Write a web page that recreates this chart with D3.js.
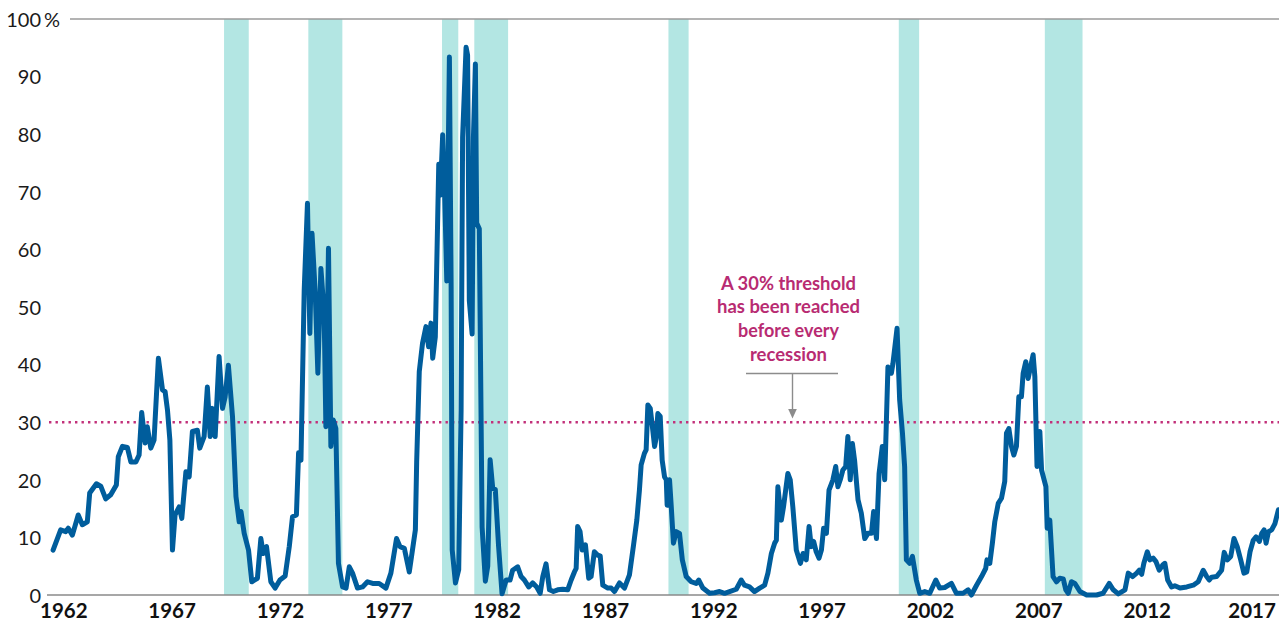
<!DOCTYPE html>
<html>
<head>
<meta charset="utf-8">
<script src="https://cdn.jsdelivr.net/npm/d3@7/dist/d3.min.js"></script>
<style>
  html, body { margin: 0; padding: 0; background: #fff; }
  svg { display: block; }
</style>
</head>
<body>
<svg id="chart" width="1279" height="625"></svg>
<script>
// ---- Data ----
const dates = [
1962.05,1962.40,1962.63,1962.75,1962.94,1963.21,1963.40,1963.63,1963.74,1964.05,1964.25,1964.48,1964.71,1964.97,
1965.06,1965.25,1965.48,1965.64,1965.87,1966.02,1966.14,1966.30,1966.40,1966.56,1966.71,1966.91,1967.10,1967.22,
1967.33,1967.44,1967.56,1967.68,1967.87,1967.99,1968.18,1968.33,1968.48,1968.71,1968.82,1969.02,1969.17,1969.30,
1969.40,1969.53,1969.71,1969.87,1969.99,1970.14,1970.33,1970.49,1970.64,1970.72,1970.87,1971.07,1971.22,1971.48,
1971.64,1971.75,1971.90,1972.10,1972.30,1972.52,1972.76,1972.95,1973.10,1973.28,1973.38,1973.49,1973.64,1973.79,
1973.90,1974.00,1974.15,1974.27,1974.41,1974.56,1974.64,1974.76,1974.87,1974.98,1975.10,1975.22,1975.41,1975.57,
1975.72,1975.87,1976.10,1976.33,1976.56,1976.80,1977.10,1977.41,1977.64,1977.90,1978.06,1978.26,1978.49,1978.77,
1978.83,1978.95,1979.10,1979.26,1979.38,1979.49,1979.57,1979.69,1979.85,1979.92,1980.03,1980.11,1980.22,1980.34,
1980.42,1980.47,1980.62,1980.77,1980.88,1980.95,1981.11,1981.18,1981.26,1981.39,1981.45,1981.54,1981.60,1981.72,
1981.85,1982.00,1982.11,1982.22,1982.34,1982.46,1982.61,1982.77,1982.96,1983.14,1983.26,1983.49,1983.65,1983.80,
1984.00,1984.18,1984.37,1984.53,1984.65,1984.80,1984.96,1985.14,1985.34,1985.57,1985.80,1985.96,1986.11,1986.19,
1986.26,1986.37,1986.47,1986.62,1986.77,1986.88,1987.03,1987.19,1987.30,1987.42,1987.65,1987.81,1987.96,1988.19,
1988.42,1988.65,1988.84,1988.99,1989.11,1989.19,1989.34,1989.42,1989.50,1989.61,1989.70,1989.81,1989.88,1989.96,
1990.07,1990.16,1990.27,1990.35,1990.39,1990.50,1990.58,1990.68,1990.81,1990.96,1991.09,1991.27,1991.50,1991.73,
1991.85,1992.04,1992.35,1992.58,1992.81,1993.04,1993.27,1993.58,1993.81,1993.96,1994.19,1994.42,1994.66,1994.89,
1995.04,1995.20,1995.35,1995.43,1995.50,1995.66,1995.76,1995.96,1996.07,1996.19,1996.35,1996.54,1996.66,1996.81,
1996.94,1997.04,1997.15,1997.27,1997.40,1997.51,1997.61,1997.74,1997.86,1998.04,1998.17,1998.27,1998.38,1998.50,
1998.63,1998.73,1998.84,1998.94,1999.04,1999.20,1999.35,1999.51,1999.66,1999.82,1999.92,2000.05,2000.17,2000.32,
2000.43,2000.58,2000.74,2000.81,2001.00,2001.12,2001.25,2001.35,2001.43,2001.58,2001.71,2001.89,2002.05,2002.28,
2002.51,2002.79,2002.97,2003.20,2003.51,2003.74,2004.05,2004.28,2004.43,2004.67,2004.90,2005.09,2005.15,2005.28,
2005.40,2005.51,2005.67,2005.82,2005.97,2006.05,2006.16,2006.28,2006.39,2006.51,2006.62,2006.74,2006.82,2006.94,
2007.05,2007.16,2007.28,2007.36,2007.46,2007.59,2007.67,2007.87,2007.93,2008.05,2008.20,2008.36,2008.51,2008.67,
2008.79,2008.90,2009.05,2009.21,2009.44,2009.75,2010.21,2010.51,2010.79,2010.98,2011.21,2011.52,2011.67,2011.87,
2012.06,2012.18,2012.29,2012.39,2012.55,2012.67,2012.82,2012.95,2013.10,2013.26,2013.36,2013.49,2013.67,2013.82,
2014.06,2014.37,2014.67,2014.90,2015.13,2015.29,2015.41,2015.52,2015.75,2015.98,2016.10,2016.24,2016.40,2016.55,
2016.70,2016.86,2017.01,2017.14,2017.29,2017.44,2017.57,2017.72,2017.83,2017.94,2018.03,2018.14,2018.29,2018.44,
2018.60
];
const shares = [
7.8,11.3,11.0,11.6,10.4,13.9,12.2,12.7,17.7,19.3,18.9,16.7,17.4,19.1,
24.0,25.8,25.6,23.1,23.1,24.3,31.7,26.4,29.2,25.5,26.9,41.1,35.6,35.3,
32.1,26.9,7.8,13.9,15.3,13.3,21.4,20.5,28.4,28.6,25.5,27.5,36.1,27.5,
32.4,27.5,41.4,32.4,34.4,39.9,31.0,17.1,12.7,14.5,10.7,7.8,2.3,2.9,
9.8,7.2,8.4,2.3,1.2,2.6,3.3,8.4,13.6,13.9,24.7,23.4,53.0,68.0,
45.4,62.8,52.4,38.5,56.7,48.9,29.2,60.2,25.8,30.4,28.9,5.5,1.4,1.2,
4.9,3.8,1.2,1.4,2.3,2.0,2.0,1.2,3.8,9.8,8.4,8.1,4.0,11.3,
23.1,38.8,43.7,46.6,43.1,47.2,41.1,44.8,74.8,69.4,79.9,71.4,54.5,93.4,
53.8,7.8,2.1,4.4,32.1,79.5,95.1,93.7,51.1,45.3,79.5,92.2,64.6,63.6,
11.8,2.4,5.0,23.5,18.5,18.3,8.5,0.2,2.6,2.6,4.3,4.9,3.2,2.6,
1.4,2.1,1.4,0.3,3.2,5.4,0.9,0.6,0.9,1.0,0.9,2.6,4.0,4.6,
11.9,11.0,7.8,8.7,2.9,3.2,7.5,6.9,6.8,1.7,1.2,1.2,0.6,2.1,
1.2,3.5,8.7,13.0,18.2,22.6,24.6,25.2,33.0,32.4,29.5,25.8,27.2,31.5,
31.0,23.4,20.5,20.0,15.6,20.0,15.3,9.0,11.0,10.7,6.1,3.2,2.3,2.0,
2.6,1.2,0.3,0.4,0.6,0.3,0.6,1.0,2.6,1.7,1.4,0.6,1.2,1.7,
3.8,7.2,9.0,9.5,18.8,13.0,15.3,21.1,20.0,15.3,7.8,5.5,7.2,6.1,
11.9,8.4,9.3,7.5,6.4,7.8,11.6,10.7,18.2,20.0,22.3,18.8,20.0,21.7,
22.3,27.5,20.0,26.3,23.4,16.5,14.2,9.8,10.7,10.7,14.5,9.8,21.1,25.8,
20.0,39.6,38.5,40.2,46.3,33.9,28.1,22.3,6.1,5.5,6.7,2.6,0.3,0.6,
0.3,2.6,1.2,1.3,2.0,0.3,0.3,0.9,0.0,1.7,3.2,4.6,6.1,5.5,
9.0,12.7,15.9,16.8,19.7,28.1,28.9,25.8,24.3,25.8,34.4,34.4,38.5,40.5,
37.6,39.6,41.7,37.9,22.3,28.4,21.7,18.8,11.6,13.0,3.2,2.3,2.9,2.8,
0.9,0.3,2.3,2.0,0.6,0.0,0.0,0.3,2.0,0.9,0.2,0.9,3.8,3.2,
3.8,4.3,3.6,5.5,7.5,6.1,6.4,5.8,4.3,5.2,5.5,2.6,1.4,1.6,
1.2,1.4,1.7,2.3,4.3,3.2,2.6,3.1,3.2,4.3,7.4,6.1,6.7,9.8,
8.4,6.1,3.8,4.0,7.5,9.5,10.1,9.3,10.7,11.3,9.0,11.0,11.3,12.4,
14.8
];
const recessionStarts = [1969.94, 1973.83, 1980.00, 1981.49, 1990.45, 2001.08, 2007.82];
const recessionEnds   = [1971.08, 1975.40, 1980.75, 1983.05, 1991.38, 2002.02, 2009.56];
const yTicks = [0, 10, 20, 30, 40, 50, 60, 70, 80, 90, 100];
const xTickYears = [1962, 1967, 1972, 1977, 1982, 1987, 1992, 1997, 2002, 2007, 2012, 2017];
const thresholdValue = 30;
const annotationLines = ["A 30% threshold", "has been reached", "before every", "recession"];

// ---- Chart ----
const W = 1279, H = 625;
const svg = d3.select("#chart");

const x = d3.scaleLinear().domain([1962, 2018.6]).range([52, 1278.4]);
const y = d3.scaleLinear().domain([0, 100]).range([595, 19]);

// Recession bands
svg.append("g").selectAll("rect")
  .data(recessionStarts.map((s, i) => [s, recessionEnds[i]]))
  .join("rect")
  .attr("x", d => x(d[0]))
  .attr("width", d => x(d[1]) - x(d[0]))
  .attr("y", y(100))
  .attr("height", y(0) - y(100))
  .attr("fill", "#b3e6e3");

// Top gridline (100%) and baseline
svg.append("line")
  .attr("x1", 70).attr("x2", W)
  .attr("y1", y(100)).attr("y2", y(100))
  .attr("stroke", "#9a9a9a").attr("stroke-width", 1.6);
svg.append("line")
  .attr("x1", 47).attr("x2", W)
  .attr("y1", y(0)).attr("y2", y(0))
  .attr("stroke", "#8a8a8a").attr("stroke-width", 1.6);

// Y axis labels via d3 axis
const yAxis = d3.axisLeft(y).tickValues(yTicks).tickSize(0).tickPadding(0)
  .tickFormat(d => d);
const gy = svg.append("g").attr("transform", "translate(41,0)").call(yAxis);
gy.select(".domain").remove();
gy.selectAll("text")
  .attr("font-family", "Lato, 'Open Sans', sans-serif")
  .attr("font-size", 20)
  .attr("fill", "#1a1a1a")
  .attr("dy", "0.36em");
gy.selectAll(".tick").filter(d => d === 100).append("text")
  .text("%")
  .attr("x", 3)
  .attr("dy", "0.36em")
  .attr("text-anchor", "start")
  .attr("font-family", "Lato, 'Open Sans', sans-serif")
  .attr("font-size", 20)
  .attr("fill", "#1a1a1a");

// X axis labels via d3 axis
const xAxis = d3.axisBottom(x).tickValues(xTickYears.map(v => v + 0.52))
  .tickSize(0).tickPadding(0).tickFormat((d, i) => String(xTickYears[i]));
const gx = svg.append("g").attr("transform", "translate(0,603)").call(xAxis);
gx.select(".domain").remove();
gx.selectAll("text")
  .attr("font-family", "Lato, 'Open Sans', sans-serif")
  .attr("font-weight", 700)
  .attr("font-size", 20.5)
  .attr("fill", "#111")
  .attr("dy", "0.71em");
// keep last label inside the frame
gx.selectAll(".tick text").each(function() {
  const bb = this.getBBox();
  const tx = +d3.select(this.parentNode).attr("transform").match(/translate\(([-\d.]+)/)[1];
  const right = tx + bb.x + bb.width;
  if (right > W - 3) d3.select(this).attr("x", (W - 3) - right);
});

// Threshold dotted line
svg.append("line")
  .attr("x1", 49).attr("x2", W)
  .attr("y1", y(thresholdValue)).attr("y2", y(thresholdValue))
  .attr("stroke", "#c2307a").attr("stroke-width", 2.4)
  .attr("stroke-dasharray", "2.4 4.1");

// Series line
const line = d3.line()
  .x((d, i) => x(dates[i]))
  .y(d => y(d));
svg.append("path")
  .datum(shares)
  .attr("d", line)
  .attr("fill", "none")
  .attr("stroke", "#005d9c")
  .attr("stroke-width", 5)
  .attr("stroke-linejoin", "round")
  .attr("stroke-linecap", "round");

// Annotation: lines squeezed to the reference widths
const annWidths = [135, 143, 101, 77];
svg.append("g").selectAll("text")
  .data(annotationLines)
  .join("text")
  .attr("x", 788.5)
  .attr("y", (d, i) => 289.5 + i * 23.8)
  .attr("text-anchor", "middle")
  .attr("font-family", "Lato, sans-serif")
  .attr("font-weight", 700)
  .attr("font-size", 19)
  .attr("textLength", (d, i) => annWidths[i])
  .attr("lengthAdjust", "spacingAndGlyphs")
  .attr("fill", "#b82b72")
  .text(d => d);

// Arrow
svg.append("line")
  .attr("x1", 746).attr("x2", 838)
  .attr("y1", 373.5).attr("y2", 373.5)
  .attr("stroke", "#8c8c8c").attr("stroke-width", 1.4);
svg.append("line")
  .attr("x1", 792.5).attr("x2", 792.5)
  .attr("y1", 373.5).attr("y2", 411)
  .attr("stroke", "#8c8c8c").attr("stroke-width", 1.4);
svg.append("path")
  .attr("d", "M788.2,409 L796.8,409 L792.5,418.5 Z")
  .attr("fill", "#8c8c8c");
</script>
</body>
</html>
